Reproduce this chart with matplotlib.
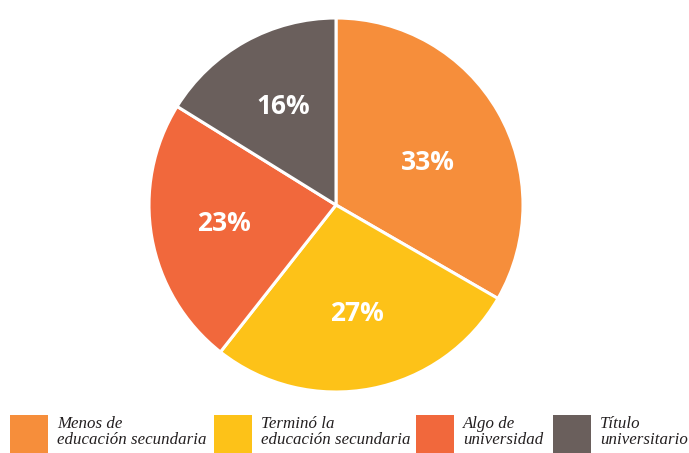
import matplotlib
matplotlib.use('Agg')
import matplotlib.pyplot as plt
from matplotlib.patches import Rectangle

# datos del grafico
labels = ['Menos de\neducación secundaria', 'Terminó la\neducación secundaria',
          'Algo de\nuniversidad', 'Título\nuniversitario']
values = [33, 27, 23, 16]
colors = ['#F68E3B', '#FDC218', '#F1683C', '#6A5F5C']

W, H = 689, 453
fig = plt.figure(figsize=(W / 100, H / 100), dpi=100)

# pie centrado en (336, 205) px, radio 187 px
r = 187
ax = fig.add_axes([(336 - r) / W, (H - 205 - r) / H, 2 * r / W, 2 * r / H])
wedges, texts, autotexts = ax.pie(values, colors=colors, startangle=90, counterclock=False,
                                  autopct=lambda p: '%d%%' % round(p * sum(values) / 100),
                                  pctdistance=0.58,
                                  wedgeprops=dict(edgecolor='white', linewidth=2.2))
# pequeños ajustes de posicion de las etiquetas
nudge = [(-0.01, -0.065), (0, -0.01), (-0.03, 0), (0, 0.02)]
for t, (dx, dy) in zip(autotexts, nudge):
    x, y = t.get_position()
    t.set_position((x + dx, y + dy))
    t.set_color('white')
    t.set_fontsize(19)
    t.set_fontweight('bold')
    t.set_family('Open Sans')
ax.set_xlim(-1, 1)
ax.set_ylim(-1, 1)
ax.set_aspect('equal')

# leyenda
box_x = [10, 214, 416, 553]
for i in range(len(labels)):
    x0 = box_x[i]
    fig.add_artist(Rectangle((x0 / W, (H - 453) / H), 38 / W, 38 / H,
                             transform=fig.transFigure, facecolor=colors[i], edgecolor='none'))
    fig.text((x0 + 47) / W, (H - 416) / H, labels[i], transform=fig.transFigure,
             ha='left', va='top', fontsize=12.2, style='italic',
             family='Liberation Serif', color='#231F20', linespacing=1.0)

fig.savefig('out.png', dpi=100)
